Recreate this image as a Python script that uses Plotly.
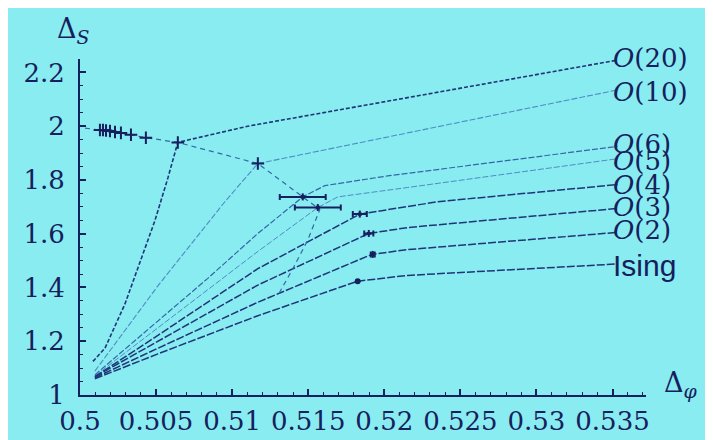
import plotly.graph_objects as go

# ---- data (Δφ, ΔS) ----
ising_x = [0.50098, 0.50512, 0.51169, 0.51825, 0.52154, 0.53533]
ising_y = [1.0605, 1.153, 1.295, 1.4235, 1.445, 1.4875]
o2_x = [0.50098, 0.50512, 0.51169, 0.51917, 0.52154, 0.53533]
o2_y = [1.064, 1.174, 1.345, 1.523, 1.541, 1.605]
o3_x = [0.50098, 0.50512, 0.51169, 0.51898, 0.52154, 0.53533]
o3_y = [1.068, 1.199, 1.409, 1.601, 1.623, 1.694]
o4_x = [0.50098, 0.50512, 0.51169, 0.51839, 0.52351, 0.53533]
o4_y = [1.068, 1.222, 1.470, 1.673, 1.719, 1.783]
o5_x = [0.50098, 0.50512, 0.51169, 0.51563, 0.51694, 0.52154, 0.53533]
o5_y = [1.071, 1.249, 1.534, 1.6975, 1.737, 1.772, 1.879]
o6_x = [0.50098, 0.50512, 0.50840, 0.51169, 0.51464, 0.51609, 0.52022, 0.53533]
o6_y = [1.075, 1.274, 1.434, 1.601, 1.737, 1.779, 1.815, 1.925]
o10_x = [0.50098, 0.50512, 0.50952, 0.51169, 0.53533]
o10_y = [1.089, 1.406, 1.719, 1.861, 2.135]
o20_x = [0.50085, 0.50164, 0.50295, 0.50492, 0.50578, 0.50643, 0.51103, 0.53533]
o20_y = [1.125, 1.174, 1.338, 1.648, 1.808, 1.940, 2.000, 2.246]

# large-N curve (dashed) and large-N points (+)
largeN_x = [0.50033, 0.50131, 0.50335, 0.50433, 0.50643, 0.51169, 0.51464, 0.51576, 0.51497, 0.51399, 0.51300]
largeN_y = [1.9929, 1.9858, 1.9680, 1.9573, 1.9395, 1.8612, 1.737, 1.690, 1.5765, 1.470, 1.370]
plus_x = [0.50131, 0.50151, 0.50171, 0.50197, 0.50230, 0.50269, 0.50335, 0.50433, 0.50643, 0.51169]
plus_y = [1.9858, 1.9858, 1.9840, 1.9822, 1.9786, 1.9751, 1.9680, 1.9573, 1.9395, 1.8612]

# estimates with error bars
est_x = [0.51464, 0.51563, 0.51839, 0.51898, 0.51924]
est_y = [1.737, 1.6975, 1.673, 1.601, 1.523]
est_xerr = [0.00151, 0.00151, 0.00046, 0.0003, 0.00013]
est_yerr = [0.004, 0.004, 0.003, 0.003, 0.005]
ising_pt_x = [0.51825]
ising_pt_y = [1.4235]

# curve labels
label_text = ["<i>O</i>(20)", "<i>O</i>(10)", "<i>O</i>(6)", "<i>O</i>(5)",
              "<i>O</i>(4)", "<i>O</i>(3)", "<i>O</i>(2)", "Ising"]
label_y = [2.2527, 2.128, 1.932, 1.872, 1.783, 1.701, 1.612, 1.480]
label_x = 0.5349

x_ticks = [0.5, 0.505, 0.51, 0.515, 0.52, 0.525, 0.53, 0.535]
x_ticktext = ["0.5", "0.505", "0.51", "0.515", "0.52", "0.525", "0.53", "0.535"]
y_ticks = [1.0, 1.2, 1.4, 1.6, 1.8, 2.0, 2.2]
y_ticktext = ["1", "1.2", "1.4", "1.6", "1.8", "2", "2.2"]

X_RANGE = [0.5, 0.5372]
Y_RANGE = [1.0, 2.25]

BG = "rgb(136,236,240)"
INK = "#16205c"
DARK = "#1f3578"
MID = "#3566a8"
LIGHT = "#4f8cc6"
SERIF = "DejaVu Serif"

fig = go.Figure()

curves = [
    (o20_x, o20_y, DARK, "4px,2px", 1.6),
    (o10_x, o10_y, LIGHT, "6px,2px", 1.1),
    (o6_x, o6_y, MID, "6px,2px", 1.2),
    (o5_x, o5_y, LIGHT, "6px,2px", 1.0),
    (o4_x, o4_y, DARK, "8px,2px", 1.5),
    (o3_x, o3_y, DARK, "8px,2px", 1.5),
    (o2_x, o2_y, DARK, "8px,2px", 1.5),
    (ising_x, ising_y, DARK, "8px,2px", 1.5),
]
for cx, cy, col, dash, w in curves:
    fig.add_trace(go.Scatter(x=cx, y=cy, mode="lines",
                             line=dict(color=col, width=w, dash=dash),
                             hoverinfo="skip", showlegend=False))

fig.add_trace(go.Scatter(x=largeN_x, y=largeN_y, mode="lines",
                         line=dict(color=MID, width=1.2, dash="5px,4px"),
                         hoverinfo="skip", showlegend=False))
fig.add_trace(go.Scatter(x=plus_x, y=plus_y, mode="markers",
                         marker=dict(symbol="cross-thin", size=9,
                                     line=dict(color=INK, width=2)),
                         showlegend=False))
fig.add_trace(go.Scatter(x=est_x, y=est_y, mode="markers",
                         marker=dict(symbol="line-ns", size=5,
                                     line=dict(color=INK, width=2)),
                         error_x=dict(type="data", array=est_xerr, color=INK,
                                      thickness=2, width=3),
                         error_y=dict(type="data", array=est_yerr, color=INK,
                                      thickness=1.5, width=2),
                         showlegend=False))
fig.add_trace(go.Scatter(x=ising_pt_x, y=ising_pt_y, mode="markers",
                         marker=dict(symbol="circle", size=6, color=INK),
                         showlegend=False))

for t, ly in zip(label_text, label_y):
    fam = "Liberation Sans" if t == "Ising" else SERIF
    size = 30 if t == "Ising" else 26
    fig.add_annotation(x=label_x, y=(ly - Y_RANGE[0]) / (Y_RANGE[1] - Y_RANGE[0]),
                       xref="x", yref="paper", text=t,
                       showarrow=False, xanchor="left", yanchor="middle",
                       font=dict(family=fam, size=size, color=INK))

fig.add_annotation(xref="paper", yref="paper", x=-0.045, y=1.085,
                   text="Δ<sub><i>S</i></sub>", showarrow=False,
                   xanchor="left", yanchor="middle",
                   font=dict(family=SERIF, size=27, color=INK))
fig.add_annotation(xref="paper", yref="paper", x=1.028, y=0.03,
                   text="Δ<sub><i>φ</i></sub>", showarrow=False,
                   xanchor="left", yanchor="middle",
                   font=dict(family=SERIF, size=27, color=INK))

axis_common = dict(showgrid=False, zeroline=False, showline=True,
                   linecolor=INK, linewidth=2, ticks="inside", tickcolor=INK,
                   tickwidth=1.5, tickfont=dict(family=SERIF, size=26, color=INK),
                   tickangle=0)
fig.update_xaxes(range=X_RANGE, tickvals=x_ticks, ticktext=x_ticktext,
                 ticklen=6, ticklabelstandoff=2,
                 minor=dict(dtick=0.001, ticks="inside", ticklen=3,
                            tickcolor=INK, tickwidth=1.2),
                 **axis_common)
fig.update_yaxes(range=Y_RANGE, tickvals=y_ticks, ticktext=y_ticktext,
                 ticklen=6, ticklabelstandoff=8,
                 minor=dict(dtick=0.05, ticks="inside", ticklen=3,
                            tickcolor=INK, tickwidth=1.2),
                 **axis_common)

fig.update_layout(width=713, height=440, paper_bgcolor=BG, plot_bgcolor=BG,
                  margin=dict(l=72, r=75, t=51, b=40), showlegend=False)

fig.write_html("out.html")
